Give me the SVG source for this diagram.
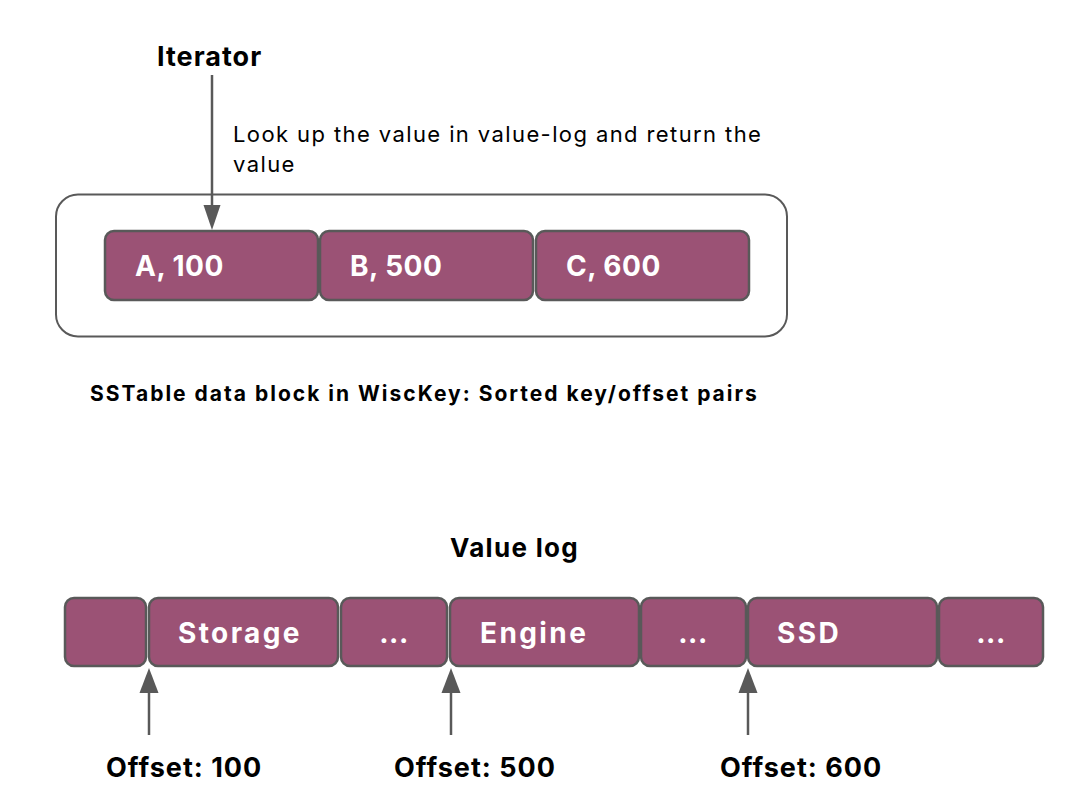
<svg xmlns="http://www.w3.org/2000/svg" width="1072" height="794" viewBox="0 0 1072 794">
<defs>
<style>
.blk{fill:#9b5275;stroke:#595959;stroke-width:2.5}
.bt{fill:#ffffff;font-family:Inter,"Liberation Sans",sans-serif;font-weight:700;font-size:28px;letter-spacing:0.5px}
.wd{letter-spacing:2.4px}
.lbl{fill:#000000;font-family:Inter,"Liberation Sans",sans-serif;font-weight:700;font-size:27px;letter-spacing:1px}
.txt{fill:#000000;font-family:Inter,"Liberation Sans",sans-serif;font-size:22px;letter-spacing:1.4px}
.ln{stroke:#595959;stroke-width:2.5;fill:none}
.ah{fill:#595959}
</style>
</defs>
<rect width="1072" height="794" fill="#ffffff"/>
<g id="container">
<rect x="56" y="194.5" width="731" height="142" rx="22" fill="none" stroke="#595959" stroke-width="2"/>
</g>
<g id="node-a"><rect class="blk" x="105" y="231" width="213" height="69" rx="9"/><text class="bt" x="135" y="276">A, 100</text></g>
<g id="node-b"><rect class="blk" x="320" y="231" width="213" height="69" rx="9"/><text class="bt" x="350" y="276">B, 500</text></g>
<g id="node-c"><rect class="blk" x="536" y="231" width="213" height="69" rx="9"/><text class="bt" x="566" y="276">C, 600</text></g>
<g id="iterator"><text class="lbl" x="157" y="66">Iterator</text></g>
<g id="lookup-label"><text class="txt" x="233" y="142">Look up the value in value-log and return the</text><text class="txt" x="233" y="172">value</text></g>
<g id="sstable-caption"><text class="lbl" x="90" y="401" style="font-size:21px;letter-spacing:2px">SSTable data block in WiscKey: Sorted key/offset pairs</text></g>
<g id="valuelog-title"><text class="lbl" x="450" y="557" style="font-size:26px;letter-spacing:1.3px">Value log</text></g>
<g id="v1"><rect class="blk" x="65" y="598" width="81" height="68" rx="9"/></g>
<g id="v2"><rect class="blk" x="149" y="598" width="189" height="68" rx="9"/><text class="bt wd" x="178" y="643">Storage</text></g>
<g id="v3"><rect class="blk" x="341" y="598" width="106" height="68" rx="9"/><text class="bt" x="394" y="643" text-anchor="middle">...</text></g>
<g id="v4"><rect class="blk" x="450" y="598" width="189" height="68" rx="9"/><text class="bt wd" x="480" y="643">Engine</text></g>
<g id="v5"><rect class="blk" x="641" y="598" width="105" height="68" rx="9"/><text class="bt" x="693" y="643" text-anchor="middle">...</text></g>
<g id="v6"><rect class="blk" x="748" y="598" width="189" height="68" rx="9"/><text class="bt wd" x="777" y="643">SSD</text></g>
<g id="v7"><rect class="blk" x="939" y="598" width="104" height="68" rx="9"/><text class="bt" x="991" y="643" text-anchor="middle">...</text></g>
<g id="offset-labels">
<text class="lbl" x="106" y="777">Offset: 100</text>
<text class="lbl" x="394" y="777">Offset: 500</text>
<text class="lbl" x="720" y="777">Offset: 600</text>
</g>
<g id="connectors">
<line class="ln" x1="212" y1="75" x2="212" y2="208"/>
<polygon class="ah" points="203.5,205 220.5,205 212,230"/>
<line class="ln" x1="149" y1="735" x2="149" y2="690"/>
<polygon class="ah" points="139.5,693 158.5,693 149,668"/>
<line class="ln" x1="451" y1="735" x2="451" y2="690"/>
<polygon class="ah" points="441.5,693 460.5,693 451,668"/>
<line class="ln" x1="748" y1="735" x2="748" y2="690"/>
<polygon class="ah" points="738.5,693 757.5,693 748,668"/>
</g>
</svg>
